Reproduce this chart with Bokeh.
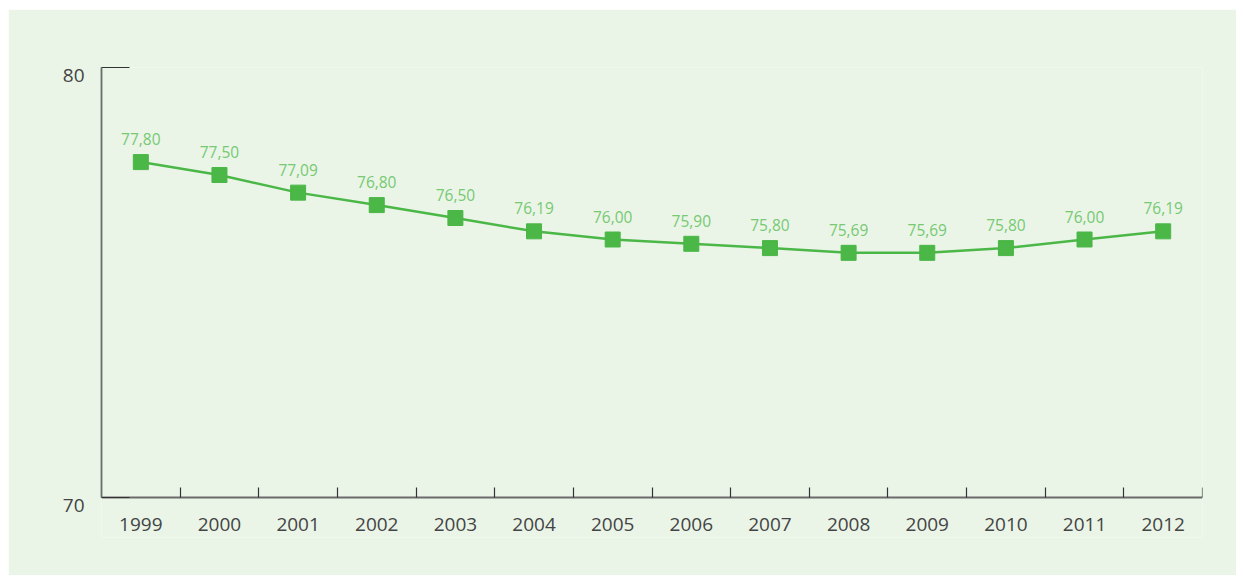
from bokeh.plotting import figure
from bokeh.models import ColumnDataSource, FixedTicker, Range1d, LinearAxis
from bokeh.core.properties import value
from bokeh.embed import file_html
from bokeh.resources import INLINE

# Annual values, 1999-2012
years = ["1999", "2000", "2001", "2002", "2003", "2004", "2005",
         "2006", "2007", "2008", "2009", "2010", "2011", "2012"]
values = [77.80, 77.50, 77.09, 76.80, 76.50, 76.19, 76.00,
          75.90, 75.80, 75.69, 75.69, 75.80, 76.00, 76.19]
y_ticks = [70, 80]

BG = "#eaf5e8"
GREEN = "#4ab747"
LABEL_GREEN = "#77c972"
FONT = "Open Sans"

# the plotting frame runs below the x axis so that the lower y label and
# the year labels sit inside it
PX_PER_UNIT = 43.0
EXTRA_PX = 40
pad = EXTRA_PX / PX_PER_UNIT
label_drop = 8.2 / PX_PER_UNIT
year_drop = 6.0 / PX_PER_UNIT

xs = [i + 0.5 for i in range(len(years))]
labels = [f"{v:.2f}".replace(".", ",") for v in values]
src = ColumnDataSource(dict(x=xs, y=values, lab=labels))

p = figure(width=1228, height=566, output_backend="svg", toolbar_location=None,
           x_range=Range1d(0, len(years)),
           y_range=Range1d(y_ticks[0] - pad, y_ticks[-1]),
           x_axis_location=None, y_axis_location=None,
           margin=(9, 7, 8, 8), min_border_left=93, min_border_right=34,
           min_border_top=58, min_border_bottom=78 - EXTRA_PX)
p.background_fill_color = BG
p.border_fill_color = BG
p.outline_line_color = None
p.grid.visible = False

p.line("x", "y", source=src, line_color=GREEN, line_width=2.5)
p.scatter("x", "y", source=src, marker="square", size=15,
          fill_color=GREEN, line_color=GREEN)
p.text("x", "y", text="lab", source=src, y_offset=-17,
       text_align="center", text_baseline="bottom",
       text_font_size="15.5px", text_color=LABEL_GREEN, text_font=value(FONT))

# x axis line pinned at the bottom value, with short upward ticks on the
# category boundaries (minor ticks, no labels)
xa = LinearAxis(ticker=FixedTicker(ticks=[], minor_ticks=list(range(1, len(years) + 1))),
                fixed_location=y_ticks[0])
xa.minor_tick_in = 0
xa.minor_tick_out = 10
xa.minor_tick_line_color = "#333333"
xa.minor_tick_line_width = 1.2
xa.axis_line_color = "#6b6b6b"
xa.axis_line_width = 1.8
xa.major_label_standoff = 0
p.add_layout(xa, "above")

# year labels at the category centres, a little under the axis line
xl = LinearAxis(ticker=FixedTicker(ticks=xs), fixed_location=y_ticks[0] - year_drop)
xl.major_label_overrides = {x: y for x, y in zip(xs, years)}
xl.axis_line_color = None
xl.major_tick_line_color = None
xl.minor_tick_line_color = None
xl.major_tick_in = 0
xl.major_tick_out = 0
xl.major_label_standoff = 14
xl.major_label_text_font = FONT
xl.major_label_text_font_size = "19px"
xl.major_label_text_color = "#444444"
p.add_layout(xl, "below")

# y axis line with inward ticks at the two end values (minor ticks, no labels)
ya = LinearAxis(ticker=FixedTicker(ticks=[], minor_ticks=y_ticks),
                bounds=(y_ticks[0], y_ticks[-1]))
ya.minor_tick_in = 28
ya.minor_tick_out = 0
ya.minor_tick_line_color = "#333333"
ya.minor_tick_line_width = 1.2
ya.axis_line_color = "#6b6b6b"
ya.axis_line_width = 1.8
ya.major_label_standoff = 0
p.add_layout(ya, "left")

# y values hang just below their ticks: a slightly shifted companion scale
p.extra_y_ranges = {"labels": Range1d(y_ticks[0] - pad + label_drop,
                                      y_ticks[-1] + label_drop)}
yl = LinearAxis(y_range_name="labels", ticker=FixedTicker(ticks=y_ticks))
yl.axis_line_color = None
yl.major_tick_line_color = None
yl.minor_tick_line_color = None
yl.major_tick_out = 0
yl.major_tick_in = 0
yl.major_label_standoff = 17
yl.major_label_text_font = FONT
yl.major_label_text_font_size = "19px"
yl.major_label_text_color = "#444444"
p.add_layout(yl, "left")

open("out.html", "w").write(file_html(p, INLINE))
